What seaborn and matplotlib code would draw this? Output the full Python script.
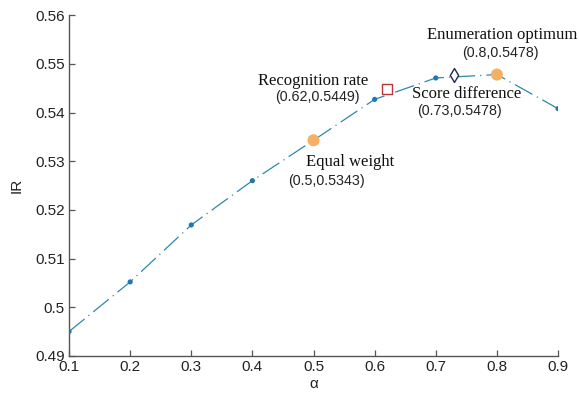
import numpy as np
import pandas as pd
import seaborn as sns
import matplotlib.pyplot as plt

# data
alpha = [0.1, 0.2, 0.3, 0.4, 0.5, 0.6, 0.7, 0.8, 0.9]
ir = [0.495, 0.5052, 0.5169, 0.526, 0.5343, 0.5427, 0.5471, 0.5478, 0.5408]

# highlighted points
orange_x = [0.5, 0.8]
orange_y = [0.5343, 0.5478]
rec_x, rec_y = 0.62, 0.5449
score_x, score_y = 0.73, 0.5478

labels = ["Enumeration optimum", "Recognition rate", "Score difference", "Equal weight"]
coords = ["(0.8,0.5478)", "(0.62,0.5449)", "(0.73,0.5478)", "(0.5,0.5343)"]

sns.set_theme(style="ticks")
plt.rcParams["font.family"] = ["Liberation Sans", "DejaVu Sans"]

df = pd.DataFrame({"alpha": alpha, "IR": ir})

fig = plt.figure(figsize=(5.79, 3.99), dpi=100)
ax = fig.add_axes([0.1192, 0.108, 0.8446, 0.854])

sns.lineplot(data=df, x="alpha", y="IR", ax=ax, color="#2f87ab", linewidth=0.9,
             dashes=False)
ax.lines[0].set_dashes((16, 4, 1, 4))
sns.scatterplot(data=df, x="alpha", y="IR", ax=ax, color="#1f78b4", s=14,
                edgecolor="none", zorder=3)
sns.scatterplot(x=orange_x, y=orange_y, ax=ax, color="#f5b064", s=75,
                edgecolor="none", zorder=4)
ax.scatter([rec_x], [rec_y], marker="s", s=55, facecolor="white",
           edgecolor="#b5393b", linewidth=1.0, zorder=4)
ax.scatter([score_x], [score_y], marker="d", s=50, facecolor="white",
           edgecolor="#1c2a4a", linewidth=1.0, zorder=4)

# annotations (serif names, sans coordinates)
serif = ["Liberation Serif", "DejaVu Serif"]
name_pos = [(0.808, 0.5559), (0.499, 0.5465), (0.751, 0.5438), (0.560, 0.5298)]
coord_pos = [(0.805, 0.5522), (0.506, 0.5432), (0.738, 0.5403), (0.522, 0.5259)]
for (nx, ny), t in zip(name_pos, labels):
    ax.text(nx, ny, t, family=serif, fontsize=12, ha="center", va="center",
            color="#111111")
for (cx, cy), t in zip(coord_pos, coords):
    ax.text(cx, cy, t, fontsize=10.3, ha="center", va="center", color="#222222")

ax.set_xlim(0.1, 0.9)
ax.set_ylim(0.49, 0.56)
ax.set_xticks([0.1, 0.2, 0.3, 0.4, 0.5, 0.6, 0.7, 0.8, 0.9])
ax.set_xticklabels(["0.1", "0.2", "0.3", "0.4", "0.5", "0.6", "0.7", "0.8", "0.9"])
ax.set_yticks([0.49, 0.5, 0.51, 0.52, 0.53, 0.54, 0.55, 0.56])
ax.set_yticklabels(["0.49", "0.5", "0.51", "0.52", "0.53", "0.54", "0.55", "0.56"])
ax.tick_params(direction="in", length=4, width=0.9, labelsize=11,
               colors="#555555", labelcolor="#222222", pad=3)
for s in ["left", "bottom"]:
    ax.spines[s].set_color("#555555")
    ax.spines[s].set_linewidth(1.0)
sns.despine(ax=ax)
ax.set_xlabel("α", fontsize=11, color="#222222", labelpad=2)
ax.set_ylabel("IR", fontsize=11, color="#222222", labelpad=8)

fig.savefig("out.png", dpi=100)
